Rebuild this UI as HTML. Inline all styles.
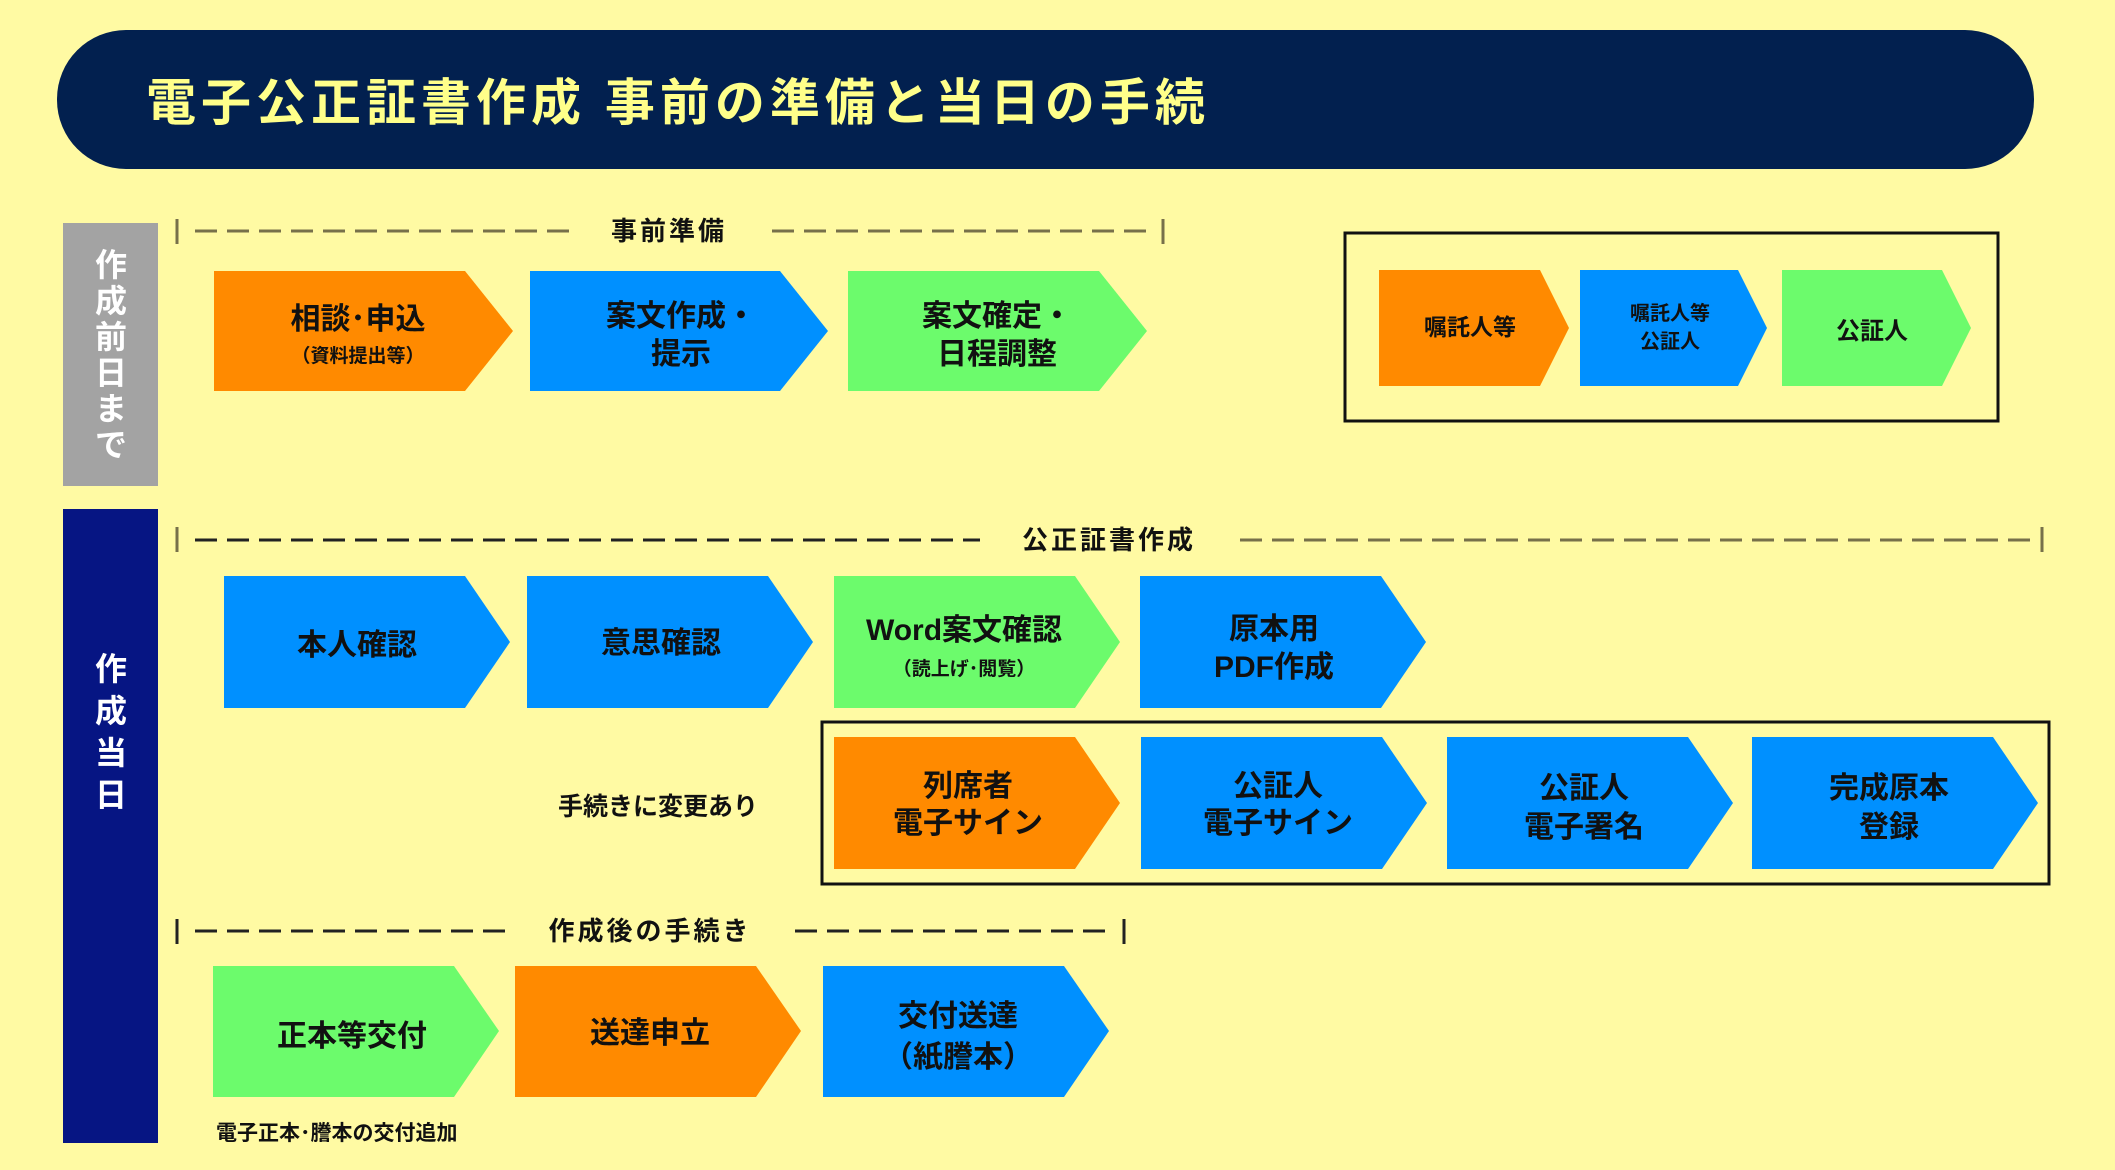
<!DOCTYPE html>
<html><head><meta charset="utf-8"><style>
html,body{margin:0;padding:0;background:#fffaa3;}
svg{display:block;}
text{font-family:"Liberation Sans","Noto Sans CJK JP",sans-serif;font-weight:bold;fill:#111;}
</style></head><body>
<svg width="2115" height="1170" viewBox="0 0 2115 1170" xmlns="http://www.w3.org/2000/svg">
<rect width="2115" height="1170" fill="#fffaa3"/>
<rect x="57" y="30" width="1977" height="139" rx="69" fill="#02204f"/>
<text x="146" y="120" font-size="50" letter-spacing="5" style="fill:#ffff8a;font-weight:bold">電子公正証書作成 事前の準備と当日の手続</text>
<rect x="63" y="223" width="95" height="263" fill="#a3a3a3"/>
<g font-size="32" text-anchor="middle">
<text x="111" y="276" style="fill:#fff">作</text><text x="111" y="312" style="fill:#fff">成</text><text x="111" y="348" style="fill:#fff">前</text><text x="111" y="384" style="fill:#fff">日</text><text x="111" y="420" style="fill:#fff">ま</text><text x="111" y="456" style="fill:#fff">で</text>
</g>
<rect x="63" y="509" width="95" height="634" fill="#061583"/>
<g font-size="32" text-anchor="middle">
<text x="111" y="680" style="fill:#fff">作</text><text x="111" y="722" style="fill:#fff">成</text><text x="111" y="764" style="fill:#fff">当</text><text x="111" y="806" style="fill:#fff">日</text>
</g>
<g stroke="#77704a" stroke-width="3" fill="none">
<line x1="177" y1="219" x2="177" y2="244"/><line x1="1163" y1="219" x2="1163" y2="244"/>
<line x1="195" y1="231" x2="570" y2="231" stroke-dasharray="22,10"/>
<line x1="772" y1="231" x2="1150" y2="231" stroke-dasharray="22,10"/>
<line x1="177" y1="527" x2="177" y2="552"/><line x1="2042" y1="527" x2="2042" y2="552"/>
<line x1="195" y1="540" x2="980" y2="540" stroke-dasharray="22,10" stroke="#222"/>
<line x1="1240" y1="540" x2="2030" y2="540" stroke-dasharray="22,10"/>
<line x1="177" y1="919" x2="177" y2="944" stroke="#222"/><line x1="1124" y1="919" x2="1124" y2="944" stroke="#222"/>
<line x1="195" y1="931" x2="505" y2="931" stroke-dasharray="22,10" stroke="#222"/>
<line x1="795" y1="931" x2="1110" y2="931" stroke-dasharray="22,10" stroke="#222"/>
</g>
<g font-size="26" text-anchor="middle" letter-spacing="3">
<text x="669" y="240">事前準備</text>
<text x="1109" y="549">公正証書作成</text>
<text x="650" y="940">作成後の手続き</text>
</g>
<rect x="1345" y="233" width="653" height="188" fill="none" stroke="#111" stroke-width="3"/>
<rect x="822" y="722" width="1227" height="162" fill="none" stroke="#111" stroke-width="3"/>
<g>
<polygon points="214,271 465,271 513,331 465,391 214,391" fill="#ff8a00"/>
<polygon points="530,271 780,271 828,331 780,391 530,391" fill="#0090ff"/>
<polygon points="848,271 1099,271 1147,331 1099,391 848,391" fill="#6cfb6c"/>
<polygon points="1379,270 1540,270 1569,328 1540,386 1379,386" fill="#ff8a00"/>
<polygon points="1580,270 1738,270 1767,328 1738,386 1580,386" fill="#0090ff"/>
<polygon points="1782,270 1942,270 1971,328 1942,386 1782,386" fill="#6cfb6c"/>
<polygon points="224,576 465,576 510,642 465,708 224,708" fill="#0090ff"/>
<polygon points="527,576 768,576 813,642 768,708 527,708" fill="#0090ff"/>
<polygon points="834,576 1075,576 1120,642 1075,708 834,708" fill="#6cfb6c"/>
<polygon points="1140,576 1381,576 1426,642 1381,708 1140,708" fill="#0090ff"/>
<polygon points="834,737 1075,737 1120,803 1075,869 834,869" fill="#ff8a00"/>
<polygon points="1141,737 1382,737 1427,803 1382,869 1141,869" fill="#0090ff"/>
<polygon points="1447,737 1688,737 1733,803 1688,869 1447,869" fill="#0090ff"/>
<polygon points="1752,737 1993,737 2038,803 1993,869 1752,869" fill="#0090ff"/>
<polygon points="213,966 454,966 499,1031 454,1097 213,1097" fill="#6cfb6c"/>
<polygon points="515,966 756,966 801,1031 756,1097 515,1097" fill="#ff8a00"/>
<polygon points="823,966 1064,966 1109,1031 1064,1097 823,1097" fill="#0090ff"/>
</g>
<g font-size="30" text-anchor="middle">
<text x="358" y="329">相談･申込</text>
<text x="358" y="362" font-size="19">（資料提出等）</text>
<text x="681" y="326">案文作成・</text><text x="681" y="364">提示</text>
<text x="997" y="326">案文確定・</text><text x="997" y="364">日程調整</text>
<text x="1470" y="335" font-size="23">嘱託人等</text>
<text x="1670" y="320" font-size="20">嘱託人等</text><text x="1670" y="348" font-size="20">公証人</text>
<text x="1872" y="339" font-size="24">公証人</text>
<text x="357" y="655">本人確認</text>
<text x="661" y="653">意思確認</text>
<text x="964" y="640">Word案文確認</text>
<text x="964" y="675" font-size="19">（読上げ･閲覧）</text>
<text x="1274" y="639">原本用</text><text x="1274" y="677">PDF作成</text>
<text x="968" y="796">列席者</text><text x="968" y="833">電子サイン</text>
<text x="1278" y="796">公証人</text><text x="1278" y="833">電子サイン</text>
<text x="1584" y="798">公証人</text><text x="1584" y="837">電子署名</text>
<text x="1889" y="798">完成原本</text><text x="1889" y="837">登録</text>
<text x="352" y="1046">正本等交付</text>
<text x="650" y="1043">送達申立</text>
<text x="958" y="1026">交付送達</text><text x="958" y="1067">（紙謄本）</text>
<text x="658" y="815" font-size="25">手続きに変更あり</text>
<text x="216" y="1140" font-size="21" text-anchor="start">電子正本･謄本の交付追加</text>
</g>
</svg>
</body></html>
